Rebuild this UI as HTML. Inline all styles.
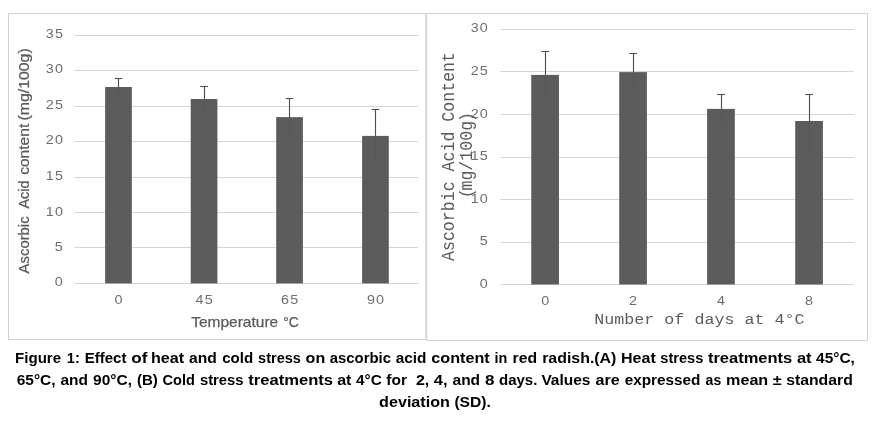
<!DOCTYPE html><html><head><meta charset="utf-8"><title>Figure 1</title><style>html,body{margin:0;padding:0;background:#fff;}svg{display:block;will-change:transform;}text{white-space:pre;}</style></head><body>
<svg width="876" height="427" viewBox="0 0 876 427">
<rect width="876" height="427" fill="#fff"/>
<rect x="8.5" y="13.5" width="417.3" height="326" fill="none" stroke="#d2d2d2" stroke-width="1"/>
<rect x="426.7" y="13.5" width="440.8" height="327" fill="none" stroke="#d2d2d2" stroke-width="1"/>
<line x1="74.4" x2="418" y1="35.50" y2="35.50" stroke="#d4d4d4" stroke-width="1"/>
<text transform="translate(45.85,38.10) scale(1.15,1)" style="font-family:'Liberation Sans',sans-serif;font-size:12.5px;letter-spacing:0.9px" fill="#6e6e6e">35</text>
<line x1="74.4" x2="418" y1="70.50" y2="70.50" stroke="#d4d4d4" stroke-width="1"/>
<text transform="translate(45.85,73.31) scale(1.15,1)" style="font-family:'Liberation Sans',sans-serif;font-size:12.5px;letter-spacing:0.9px" fill="#6e6e6e">30</text>
<line x1="74.4" x2="418" y1="106.50" y2="106.50" stroke="#d4d4d4" stroke-width="1"/>
<text transform="translate(45.85,109.03) scale(1.15,1)" style="font-family:'Liberation Sans',sans-serif;font-size:12.5px;letter-spacing:0.9px" fill="#6e6e6e">25</text>
<line x1="74.4" x2="418" y1="141.50" y2="141.50" stroke="#d4d4d4" stroke-width="1"/>
<text transform="translate(45.85,144.44) scale(1.15,1)" style="font-family:'Liberation Sans',sans-serif;font-size:12.5px;letter-spacing:0.9px" fill="#6e6e6e">20</text>
<line x1="74.4" x2="418" y1="177.50" y2="177.50" stroke="#d4d4d4" stroke-width="1"/>
<text transform="translate(45.85,179.86) scale(1.15,1)" style="font-family:'Liberation Sans',sans-serif;font-size:12.5px;letter-spacing:0.9px" fill="#6e6e6e">15</text>
<line x1="74.4" x2="418" y1="212.50" y2="212.50" stroke="#d4d4d4" stroke-width="1"/>
<text transform="translate(45.85,216.17) scale(1.15,1)" style="font-family:'Liberation Sans',sans-serif;font-size:12.5px;letter-spacing:0.9px" fill="#6e6e6e">10</text>
<line x1="74.4" x2="418" y1="247.50" y2="247.50" stroke="#d4d4d4" stroke-width="1"/>
<text transform="translate(54.85,250.69) scale(1.15,1)" style="font-family:'Liberation Sans',sans-serif;font-size:12.5px;letter-spacing:0.9px" fill="#6e6e6e">5</text>
<line x1="74.4" x2="418" y1="283.50" y2="283.50" stroke="#d4d4d4" stroke-width="1"/>
<text transform="translate(54.85,286.10) scale(1.15,1)" style="font-family:'Liberation Sans',sans-serif;font-size:12.5px;letter-spacing:0.9px" fill="#6e6e6e">0</text>
<rect x="105.15" y="87.0" width="26.7" height="196.40" fill="#5c5c5c"/>
<line x1="118.5" x2="118.5" y1="87.0" y2="95.4" stroke="#575757" stroke-width="1"/>
<line x1="115.50" x2="121.50" y1="95.4" y2="95.4" stroke="#575757" stroke-width="1"/>
<line x1="118.5" x2="118.5" y1="78.5" y2="87.0" stroke="#505050" stroke-width="1.15"/>
<line x1="114.65" x2="122.35" y1="78.5" y2="78.5" stroke="#505050" stroke-width="1.1"/>
<text transform="translate(114.55,303.80) scale(1.15,1)" style="font-family:'Liberation Sans',sans-serif;font-size:12.5px;letter-spacing:0.9px" fill="#6e6e6e">0</text>
<rect x="190.70" y="99.0" width="26.7" height="184.40" fill="#5c5c5c"/>
<line x1="204.5" x2="204.5" y1="99.0" y2="111.5" stroke="#575757" stroke-width="1"/>
<line x1="201.50" x2="207.50" y1="111.5" y2="111.5" stroke="#575757" stroke-width="1"/>
<line x1="204.5" x2="204.5" y1="86.5" y2="99.0" stroke="#505050" stroke-width="1.15"/>
<line x1="200.20" x2="207.90" y1="86.5" y2="86.5" stroke="#505050" stroke-width="1.1"/>
<text transform="translate(195.60,303.80) scale(1.15,1)" style="font-family:'Liberation Sans',sans-serif;font-size:12.5px;letter-spacing:0.9px" fill="#6e6e6e">45</text>
<rect x="276.20" y="117.1" width="26.7" height="166.30" fill="#5c5c5c"/>
<line x1="289.5" x2="289.5" y1="117.1" y2="135.6" stroke="#575757" stroke-width="1"/>
<line x1="286.50" x2="292.50" y1="135.6" y2="135.6" stroke="#575757" stroke-width="1"/>
<line x1="289.5" x2="289.5" y1="98.5" y2="117.1" stroke="#505050" stroke-width="1.15"/>
<line x1="285.70" x2="293.40" y1="98.5" y2="98.5" stroke="#505050" stroke-width="1.1"/>
<text transform="translate(281.10,303.80) scale(1.15,1)" style="font-family:'Liberation Sans',sans-serif;font-size:12.5px;letter-spacing:0.9px" fill="#6e6e6e">65</text>
<rect x="362.10" y="135.9" width="26.7" height="147.50" fill="#5c5c5c"/>
<line x1="375.5" x2="375.5" y1="135.9" y2="162.0" stroke="#575757" stroke-width="1"/>
<line x1="372.50" x2="378.50" y1="162.0" y2="162.0" stroke="#575757" stroke-width="1"/>
<line x1="375.5" x2="375.5" y1="109.5" y2="135.9" stroke="#505050" stroke-width="1.15"/>
<line x1="371.60" x2="379.30" y1="109.5" y2="109.5" stroke="#505050" stroke-width="1.1"/>
<text transform="translate(367.00,303.80) scale(1.15,1)" style="font-family:'Liberation Sans',sans-serif;font-size:12.5px;letter-spacing:0.9px" fill="#6e6e6e">90</text>
<text y="327.2" style="font-family:'Liberation Sans',sans-serif;font-size:15px" fill="#5a5a5a" stroke="#5a5a5a" stroke-width="0.25"><tspan x="191.2" textLength="87" lengthAdjust="spacingAndGlyphs">Temperature</tspan> <tspan x="283.2" textLength="15.6" lengthAdjust="spacingAndGlyphs">°C</tspan></text>
<text transform="translate(29.2,0) rotate(-90)" style="font-family:'Liberation Sans',sans-serif;font-size:14.7px" fill="#5a5a5a" stroke="#5a5a5a" stroke-width="0.25"><tspan x="-273.4" textLength="57.0" lengthAdjust="spacingAndGlyphs">Ascorbic</tspan> <tspan x="-208.5" textLength="28.0" lengthAdjust="spacingAndGlyphs">Acid</tspan> <tspan x="-174.8" textLength="51.0" lengthAdjust="spacingAndGlyphs">content</tspan> <tspan x="-120.6" textLength="72.3" lengthAdjust="spacingAndGlyphs">(mg/100g)</tspan></text>
<line x1="500.2" x2="853.8" y1="29.50" y2="29.50" stroke="#d4d4d4" stroke-width="1"/>
<text transform="translate(470.75,31.70) scale(1.15,1)" style="font-family:'Liberation Sans',sans-serif;font-size:12.5px;letter-spacing:0.9px" fill="#6e6e6e">30</text>
<line x1="500.2" x2="853.8" y1="71.50" y2="71.50" stroke="#d4d4d4" stroke-width="1"/>
<text transform="translate(470.75,75.20) scale(1.15,1)" style="font-family:'Liberation Sans',sans-serif;font-size:12.5px;letter-spacing:0.9px" fill="#6e6e6e">25</text>
<line x1="500.2" x2="853.8" y1="114.50" y2="114.50" stroke="#d4d4d4" stroke-width="1"/>
<text transform="translate(470.75,117.70) scale(1.15,1)" style="font-family:'Liberation Sans',sans-serif;font-size:12.5px;letter-spacing:0.9px" fill="#6e6e6e">20</text>
<line x1="500.2" x2="853.8" y1="157.50" y2="157.50" stroke="#d4d4d4" stroke-width="1"/>
<text transform="translate(470.75,160.20) scale(1.15,1)" style="font-family:'Liberation Sans',sans-serif;font-size:12.5px;letter-spacing:0.9px" fill="#6e6e6e">15</text>
<line x1="500.2" x2="853.8" y1="199.50" y2="199.50" stroke="#d4d4d4" stroke-width="1"/>
<text transform="translate(470.75,202.70) scale(1.15,1)" style="font-family:'Liberation Sans',sans-serif;font-size:12.5px;letter-spacing:0.9px" fill="#6e6e6e">10</text>
<line x1="500.2" x2="853.8" y1="242.50" y2="242.50" stroke="#d4d4d4" stroke-width="1"/>
<text transform="translate(479.75,245.20) scale(1.15,1)" style="font-family:'Liberation Sans',sans-serif;font-size:12.5px;letter-spacing:0.9px" fill="#6e6e6e">5</text>
<line x1="500.2" x2="853.8" y1="284.50" y2="284.50" stroke="#d4d4d4" stroke-width="1"/>
<text transform="translate(479.75,287.70) scale(1.15,1)" style="font-family:'Liberation Sans',sans-serif;font-size:12.5px;letter-spacing:0.9px" fill="#6e6e6e">0</text>
<rect x="531.25" y="74.9" width="27.7" height="209.60" fill="#5c5c5c"/>
<line x1="545.5" x2="545.5" y1="74.9" y2="96.0" stroke="#575757" stroke-width="1"/>
<line x1="542.50" x2="548.50" y1="96.0" y2="96.0" stroke="#575757" stroke-width="1"/>
<line x1="545.5" x2="545.5" y1="51.5" y2="74.9" stroke="#505050" stroke-width="1.15"/>
<line x1="541.25" x2="548.95" y1="51.5" y2="51.5" stroke="#505050" stroke-width="1.1"/>
<text transform="translate(541.15,305.20) scale(1.15,1)" style="font-family:'Liberation Sans',sans-serif;font-size:12.5px;letter-spacing:0.9px" fill="#6e6e6e">0</text>
<rect x="619.20" y="72.1" width="27.7" height="212.40" fill="#5c5c5c"/>
<line x1="633.5" x2="633.5" y1="72.1" y2="90.5" stroke="#575757" stroke-width="1"/>
<line x1="630.50" x2="636.50" y1="90.5" y2="90.5" stroke="#575757" stroke-width="1"/>
<line x1="633.5" x2="633.5" y1="53.5" y2="72.1" stroke="#505050" stroke-width="1.15"/>
<line x1="629.20" x2="636.90" y1="53.5" y2="53.5" stroke="#505050" stroke-width="1.1"/>
<text transform="translate(629.10,305.20) scale(1.15,1)" style="font-family:'Liberation Sans',sans-serif;font-size:12.5px;letter-spacing:0.9px" fill="#6e6e6e">2</text>
<rect x="707.10" y="108.9" width="27.7" height="175.60" fill="#5c5c5c"/>
<line x1="721.5" x2="721.5" y1="108.9" y2="123.5" stroke="#575757" stroke-width="1"/>
<line x1="718.50" x2="724.50" y1="123.5" y2="123.5" stroke="#575757" stroke-width="1"/>
<line x1="721.5" x2="721.5" y1="94.5" y2="108.9" stroke="#505050" stroke-width="1.15"/>
<line x1="717.10" x2="724.80" y1="94.5" y2="94.5" stroke="#505050" stroke-width="1.1"/>
<text transform="translate(717.00,305.20) scale(1.15,1)" style="font-family:'Liberation Sans',sans-serif;font-size:12.5px;letter-spacing:0.9px" fill="#6e6e6e">4</text>
<rect x="795.20" y="121.0" width="27.7" height="163.50" fill="#5c5c5c"/>
<line x1="809.5" x2="809.5" y1="121.0" y2="148.0" stroke="#575757" stroke-width="1"/>
<line x1="806.50" x2="812.50" y1="148.0" y2="148.0" stroke="#575757" stroke-width="1"/>
<line x1="809.5" x2="809.5" y1="94.5" y2="121.0" stroke="#505050" stroke-width="1.15"/>
<line x1="805.20" x2="812.90" y1="94.5" y2="94.5" stroke="#505050" stroke-width="1.1"/>
<text transform="translate(805.10,305.20) scale(1.15,1)" style="font-family:'Liberation Sans',sans-serif;font-size:12.5px;letter-spacing:0.9px" fill="#6e6e6e">8</text>
<text transform="translate(699.4,324.1) scale(1,0.9)" text-anchor="middle" style="font-family:'Liberation Mono',monospace;font-size:16.7px" fill="#5c5c5c">Number of days at 4°C</text>
<text transform="translate(453.8,156.5) rotate(-90) scale(1,1.1)" text-anchor="middle" style="font-family:'Liberation Mono',monospace;font-size:16.6px" fill="#5c5c5c">Ascorbic Acid Content</text>
<text transform="translate(472.1,0) rotate(-90) scale(1,1.1)" style="font-family:'Liberation Mono',monospace;font-size:16.6px" fill="#5c5c5c"><tspan x="-198.2">(</tspan><tspan x="-190.56">mg/100g</tspan><tspan x="-122.0">)</tspan></text>
<text y="362.5" style="font-family:'Liberation Sans',sans-serif;font-size:14.8px;font-weight:bold" fill="#000"><tspan x="15.10" textLength="46.00" lengthAdjust="spacingAndGlyphs">Figure</tspan> <tspan x="66.80" textLength="13.00" lengthAdjust="spacingAndGlyphs">1:</tspan> <tspan x="84.70" textLength="41.70" lengthAdjust="spacingAndGlyphs">Effect</tspan> <tspan x="131.30" textLength="16.10" lengthAdjust="spacingAndGlyphs">of</tspan> <tspan x="150.90" textLength="33.20" lengthAdjust="spacingAndGlyphs">heat</tspan> <tspan x="189.10" textLength="27.80" lengthAdjust="spacingAndGlyphs">and</tspan> <tspan x="222.20" textLength="31.00" lengthAdjust="spacingAndGlyphs">cold</tspan> <tspan x="258.10" textLength="42.80" lengthAdjust="spacingAndGlyphs">stress</tspan> <tspan x="305.60" textLength="19.60" lengthAdjust="spacingAndGlyphs">on</tspan> <tspan x="329.80" textLength="61.10" lengthAdjust="spacingAndGlyphs">ascorbic</tspan> <tspan x="395.80" textLength="30.70" lengthAdjust="spacingAndGlyphs">acid</tspan> <tspan x="431.30" textLength="58.40" lengthAdjust="spacingAndGlyphs">content</tspan> <tspan x="494.60" textLength="12.80" lengthAdjust="spacingAndGlyphs">in</tspan> <tspan x="512.60" textLength="24.50" lengthAdjust="spacingAndGlyphs">red</tspan> <tspan x="542.20" textLength="74.20" lengthAdjust="spacingAndGlyphs">radish.(A)</tspan> <tspan x="621.00" textLength="34.80" lengthAdjust="spacingAndGlyphs">Heat</tspan> <tspan x="660.30" textLength="43.00" lengthAdjust="spacingAndGlyphs">stress</tspan> <tspan x="707.90" textLength="84.30" lengthAdjust="spacingAndGlyphs">treatments</tspan> <tspan x="796.90" textLength="14.70" lengthAdjust="spacingAndGlyphs">at</tspan> <tspan x="816.10" textLength="38.80" lengthAdjust="spacingAndGlyphs">45°C,</tspan></text>
<text y="385.0" style="font-family:'Liberation Sans',sans-serif;font-size:14.8px;font-weight:bold" fill="#000"><tspan x="16.70" textLength="38.90" lengthAdjust="spacingAndGlyphs">65°C,</tspan> <tspan x="60.50" textLength="27.50" lengthAdjust="spacingAndGlyphs">and</tspan> <tspan x="93.10" textLength="38.90" lengthAdjust="spacingAndGlyphs">90°C,</tspan> <tspan x="136.90" textLength="20.90" lengthAdjust="spacingAndGlyphs">(B)</tspan> <tspan x="162.50" textLength="32.40" lengthAdjust="spacingAndGlyphs">Cold</tspan> <tspan x="199.90" textLength="43.70" lengthAdjust="spacingAndGlyphs">stress</tspan> <tspan x="248.20" textLength="84.90" lengthAdjust="spacingAndGlyphs">treatments</tspan> <tspan x="337.20" textLength="14.30" lengthAdjust="spacingAndGlyphs">at</tspan> <tspan x="356.00" textLength="25.70" lengthAdjust="spacingAndGlyphs">4°C</tspan> <tspan x="386.30" textLength="20.60" lengthAdjust="spacingAndGlyphs">for</tspan>  <tspan x="415.90" textLength="13.30" lengthAdjust="spacingAndGlyphs">2,</tspan> <tspan x="433.70" textLength="13.80" lengthAdjust="spacingAndGlyphs">4,</tspan> <tspan x="452.50" textLength="27.60" lengthAdjust="spacingAndGlyphs">and</tspan> <tspan x="485.00" textLength="9.50" lengthAdjust="spacingAndGlyphs">8</tspan> <tspan x="499.00" textLength="38.40" lengthAdjust="spacingAndGlyphs">days.</tspan> <tspan x="541.40" textLength="49.10" lengthAdjust="spacingAndGlyphs">Values</tspan> <tspan x="595.50" textLength="24.10" lengthAdjust="spacingAndGlyphs">are</tspan> <tspan x="624.70" textLength="75.80" lengthAdjust="spacingAndGlyphs">expressed</tspan> <tspan x="705.60" textLength="15.60" lengthAdjust="spacingAndGlyphs">as</tspan> <tspan x="726.10" textLength="42.10" lengthAdjust="spacingAndGlyphs">mean</tspan> <tspan x="772.70" textLength="9.00" lengthAdjust="spacingAndGlyphs">±</tspan> <tspan x="786.20" textLength="66.60" lengthAdjust="spacingAndGlyphs">standard</tspan></text>
<text y="407.4" style="font-family:'Liberation Sans',sans-serif;font-size:14.8px;font-weight:bold" fill="#000"><tspan x="379.10" textLength="70.80" lengthAdjust="spacingAndGlyphs">deviation</tspan> <tspan x="454.40" textLength="36.50" lengthAdjust="spacingAndGlyphs">(SD).</tspan></text>
</svg></body></html>
